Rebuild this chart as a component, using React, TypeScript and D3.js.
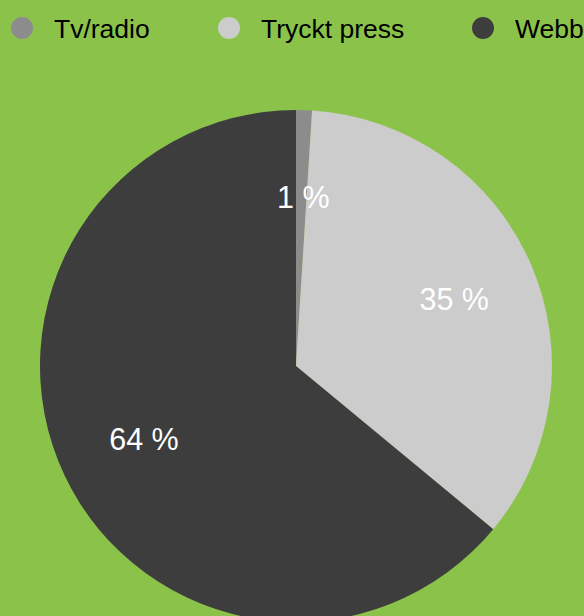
import React from "react";
import * as d3 from "d3";

const categories = ["Tv/radio", "Tryckt press", "Webb"];
const values = [1, 35, 64];
const colors = ["#8c8c8c", "#cccccc", "#3d3d3d"];
const legendX = [22, 229, 483];

const W = 584;
const H = 616;

export default function App() {
  const cx = 296;
  const cy = 366;
  const r = 256;
  const pie = d3.pie<number>().sort(null).value((d) => d);
  const arcs = pie(values);
  const arc = d3.arc<d3.PieArcDatum<number>>().innerRadius(0).outerRadius(r);
  const labelArc = d3.arc<d3.PieArcDatum<number>>().innerRadius(r * 0.665).outerRadius(r * 0.665);
  const total = d3.sum(values);
  return (
    <svg width={W} height={H} style={{ position: "absolute", left: 0, top: 0, background: "#8bc34a" }}
      fontFamily="'Liberation Sans', Arial, Helvetica, sans-serif">
      <rect x={0} y={0} width={W} height={H} fill="#8bc34a" />
      <g>
        {categories.map((c, i) => (
          <g key={c}>
            <circle cx={legendX[i]} cy={28} r={11} fill={colors[i]} />
            <text x={legendX[i] + 32} y={37.5} fontSize={26.5} fill="#000">{c}</text>
          </g>
        ))}
      </g>
      <g transform={`translate(${cx},${cy})`}>
        {arcs.map((a, i) => (
          <path key={i} d={arc(a) || ""} fill={colors[i]} />
        ))}
        {arcs.map((a, i) => {
          const [x, y] = labelArc.centroid(a);
          return (
            <text key={"l" + i} x={x + 2} y={y + 1} dy="0.35em" textAnchor="middle" fontSize={30.5} fill="#fff">
              {`${Math.round((a.data / total) * 100)} %`}
            </text>
          );
        })}
      </g>
    </svg>
  );
}
